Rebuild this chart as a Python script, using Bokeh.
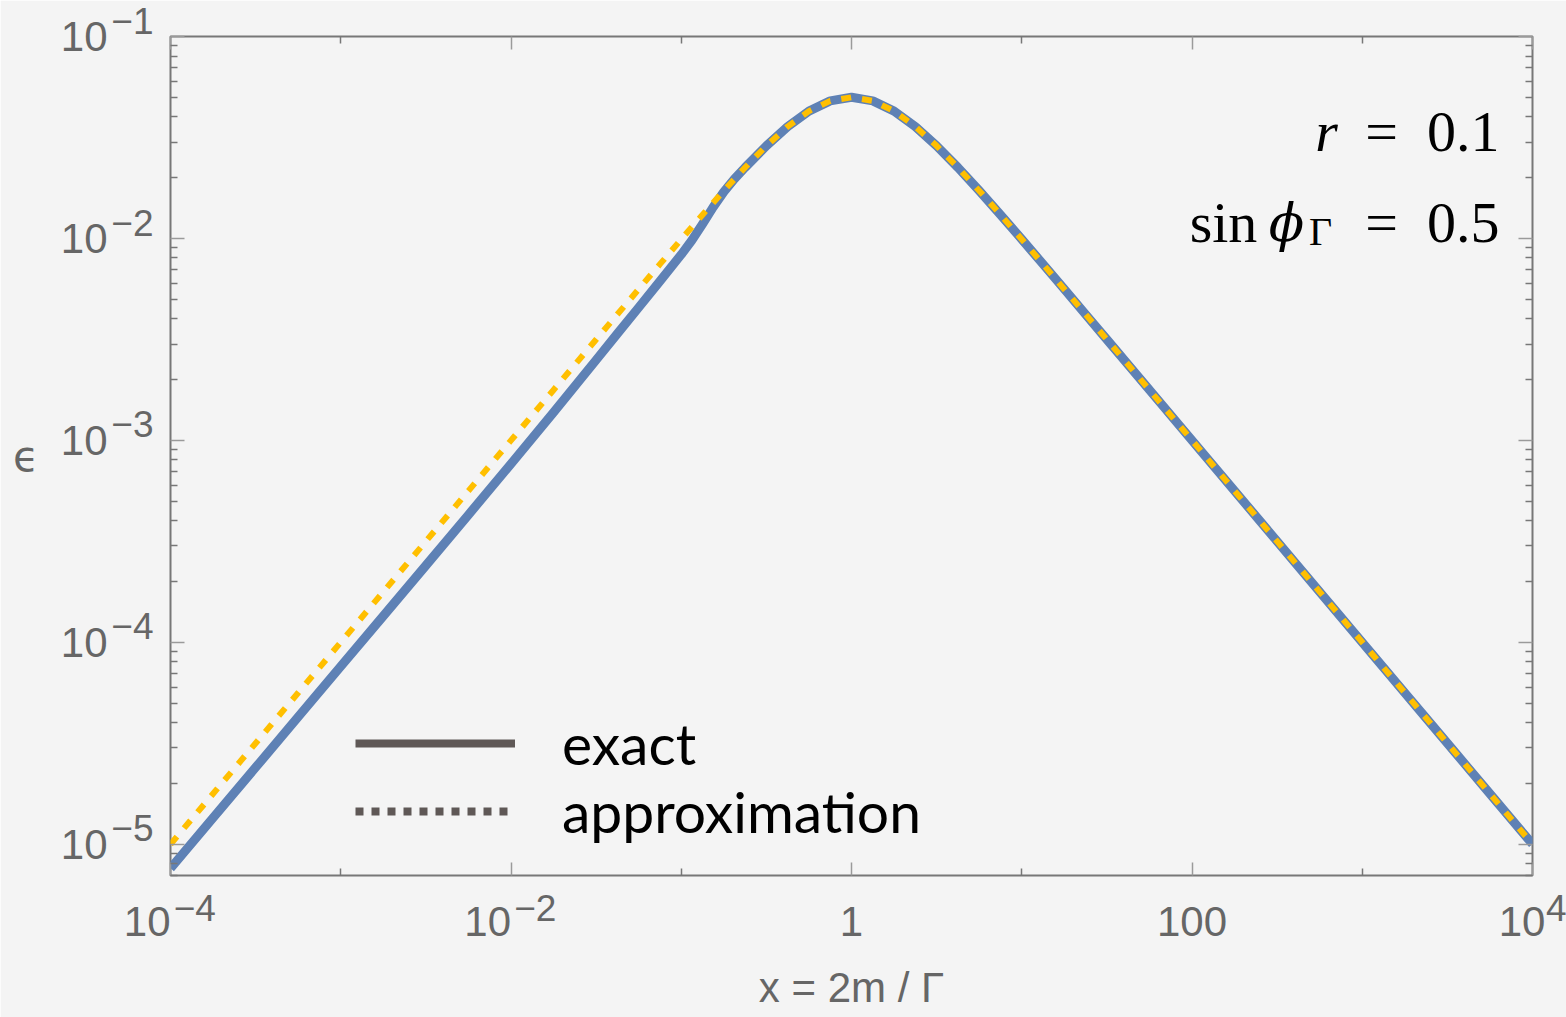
import math
from bokeh.plotting import figure
from bokeh.models import LogAxis, FixedTicker, Label, Legend, LegendItem, Range1d
from bokeh.embed import file_html
from bokeh.resources import INLINE

# ---------------- data ----------------
x_exact = [1e-4, 1.778e-4, 3.162e-4, 5.623e-4, 1e-3, 1.778e-3, 3.162e-3, 5.623e-3,
           1e-2, 1.778e-2, 3.162e-2, 4.217e-2, 5.623e-2, 7.499e-2, 0.1, 0.1155, 0.1334, 0.1540, 0.1778,
           0.2054, 0.2371, 0.3162, 0.4217, 0.5623, 0.7499, 1.0, 1.3335, 1.7783, 2.3714, 3.1623,
           4.2170, 5.6234, 7.4989, 10.0, 13.335, 17.783, 23.714, 31.623, 56.234, 100.0,
           177.83, 316.23, 562.34, 1000.0, 1778.3, 3162.3, 5623.4, 10000.0]
eps_exact = [7.6e-6, 1.35e-5, 2.40e-5, 4.27e-5, 7.6e-5, 1.35e-4, 2.40e-4, 4.28e-4,
             7.65e-4, 1.375e-3, 2.50e-3, 3.38e-3, 4.55e-3, 6.14e-3, 8.32e-3, 9.8e-3, 1.18e-2, 1.429e-2, 1.70e-2,
             0.01971, 0.02245, 0.02875, 0.03580, 0.04272, 0.04800, 0.05000, 0.04800, 0.04272, 0.03580, 0.02875,
             0.02245, 0.01724, 0.01311, 0.009901, 0.007457, 0.005605, 0.004210, 0.003159, 0.001777, 0.001,
             5.623e-4, 3.162e-4, 1.778e-4, 1e-4, 5.623e-5, 3.162e-5, 1.778e-5, 1e-5]

x_approx = [1e-4, 1.778e-4, 3.162e-4, 5.623e-4, 1e-3, 1.778e-3, 3.162e-3, 5.623e-3,
            1e-2, 1.778e-2, 3.162e-2, 4.217e-2, 5.623e-2, 7.499e-2, 0.1, 0.1334, 0.1778,
            0.2371, 0.3162, 0.4217, 0.5623, 0.7499, 1.0, 1.3335, 1.7783, 2.3714, 3.1623,
            4.2170, 5.6234, 7.4989, 10.0, 13.335, 17.783, 23.714, 31.623, 56.234, 100.0,
            177.83, 316.23, 562.34, 1000.0, 1778.3, 3162.3, 5623.4, 10000.0]
eps_approx = [1e-5, 1.778e-5, 3.162e-5, 5.623e-5, 1e-4, 1.778e-4, 3.162e-4, 5.623e-4,
              1e-3, 1.777e-3, 3.159e-3, 4.210e-3, 5.605e-3, 7.457e-3, 9.901e-3, 1.311e-2, 1.724e-2,
              0.02245, 0.02875, 0.03580, 0.04272, 0.04800, 0.05000, 0.04800, 0.04272, 0.03580, 0.02875,
              0.02245, 0.01724, 0.01311, 0.009901, 0.007457, 0.005605, 0.004210, 0.003159, 0.001777, 0.001,
              5.623e-4, 3.162e-4, 1.778e-4, 1e-4, 5.623e-5, 3.162e-5, 1.778e-5, 1e-5]

series_labels = ["exact", "approximation"]

# tick labels: (mantissa, exponent)
x_major = [1e-4, 1e-2, 1.0, 100.0, 1e4]
x_tick_labels = [("10", "\u22124"), ("10", "\u22122"), ("1", ""), ("100", ""), ("10", "4")]
x_minor = [1e-3, 1e-1, 10.0, 1e3]
y_major = [1e-5, 1e-4, 1e-3, 1e-2, 1e-1]
y_tick_labels = [("10", "\u22125"), ("10", "\u22124"), ("10", "\u22123"), ("10", "\u22122"), ("10", "\u22121")]

x_title = "x = 2m / \u0393"
y_title = "\u03f5"
param_lines = [("r", "0.1"), ("sin", "0.5")]

X0, X1 = 1e-4, 1e4
Y0, Y1 = 7.0e-6, 0.1

# ---------------- layout ----------------
W, H = 1566, 1017
FL, FR, FT, FB = 170, 1532, 36, 875
BG = "#f4f4f4"
GRAY = "#666666"
TICK_FONT = "Liberation Sans"
BASE_SIZE, EXP_SIZE = 42, 37
FIG = "\u2007"     # figure space (digit width)
EN = "\u2002"
THIN = "\u2009"

y_minor = [m * 10.0 ** e for e in range(-6, -1) for m in range(2, 10) if Y0 <= m * 10.0 ** e <= Y1]

p = figure(width=W, height=H, x_axis_type="log", y_axis_type="log",
           x_range=Range1d(X0, X1), y_range=Range1d(Y0, Y1),
           output_backend="svg", toolbar_location=None,
           min_border_left=FL, min_border_right=W - FR, min_border_top=FT, min_border_bottom=H - FB,
           background_fill_color=BG, border_fill_color=BG,
           outline_line_color="#777777", outline_line_width=2)
p.xgrid.visible = False
p.ygrid.visible = False


def style_axis(ax, major, minor, maj_len, labels, size=BASE_SIZE, ticks=True):
    ax.ticker = FixedTicker(ticks=major, minor_ticks=minor)
    ax.axis_line_color = None
    ax.major_tick_in = maj_len if ticks else 0
    ax.major_tick_out = 0
    ax.minor_tick_in = 7 if ticks else 0
    ax.minor_tick_out = 0
    ax.major_tick_line_color = "#9a9a9a" if ticks else None
    ax.major_tick_line_width = 1.5
    ax.minor_tick_line_color = "#777777" if ticks else None
    ax.minor_tick_line_width = 1.5
    ax.major_label_overrides = {v: t for v, t in zip(major, labels)}
    ax.major_label_text_font = TICK_FONT
    ax.major_label_text_font_size = f"{size}px"
    ax.major_label_text_color = GRAY
    ax.axis_label_text_font = TICK_FONT
    ax.axis_label_text_font_style = "normal"
    ax.axis_label_text_color = GRAY


def mirror_axis(tick_values, length, color):
    # frame ticks without any labels: the values are given as (unlabelled) minor ticks
    ax = LogAxis(ticker=FixedTicker(ticks=[], minor_ticks=tick_values))
    ax.axis_line_color = None
    ax.major_tick_in = 0
    ax.major_tick_out = 0
    ax.major_tick_line_color = None
    ax.minor_tick_in = length
    ax.minor_tick_out = 0
    ax.minor_tick_line_color = color
    ax.minor_tick_line_width = 1.5
    ax.major_label_standoff = 0
    ax.axis_label = None
    return ax


# ---- bottom: inner axis carries ticks + exponents, outer axis the mantissas ----
x_exp_labels = [(FIG + FIG + THIN + ex) if ex else "" for _, ex in x_tick_labels]
x_base_labels = [(b + (FIG + FIG if len(ex) > 1 else EN)) if ex else b for b, ex in x_tick_labels]

x_inner = p.xaxis[0]
style_axis(x_inner, x_major, x_minor, 13, x_exp_labels, size=EXP_SIZE)
x_inner.major_label_standoff = 12
x_inner.axis_label = None

x_outer = LogAxis()
style_axis(x_outer, x_major, x_minor, 0, x_base_labels, ticks=False)
x_outer.major_label_standoff = -34
x_outer.axis_label = x_title
x_outer.axis_label_text_font_size = f"{BASE_SIZE}px"
x_outer.axis_label_standoff = 16
p.add_layout(x_outer, "below")

# ---- left: inner axis carries ticks + exponents (raised), outer axis the mantissas ----
y_exp_labels = [ex + "\n\u200b" for _, ex in y_tick_labels]
y_base_labels = [b for b, _ in y_tick_labels]

y_inner = p.yaxis[0]
style_axis(y_inner, y_major, y_minor, 14, y_exp_labels, size=EXP_SIZE)
y_inner.major_label_standoff = 17
y_inner.major_label_text_line_height = 0.75
y_inner.axis_label = None

y_outer = LogAxis()
style_axis(y_outer, y_major, y_minor, 0, y_base_labels, ticks=False)
y_outer.major_label_standoff = 1
y_outer.axis_label = y_title
y_outer.axis_label_text_font = "DejaVu Sans"
y_outer.axis_label_text_font_size = "42px"
y_outer.axis_label_orientation = "horizontal"
y_outer.axis_label_standoff = 19
p.add_layout(y_outer, "left")

# ---- mirrored frame ticks on top and right (no labels) ----
p.add_layout(mirror_axis(x_minor, 7, "#777777"), "above")
p.add_layout(mirror_axis(x_major, 13, "#9a9a9a"), "above")
p.add_layout(mirror_axis(y_minor, 7, "#777777"), "right")
p.add_layout(mirror_axis(y_major, 14, "#9a9a9a"), "right")

# ---------------- curves ----------------
p.line(x_exact, eps_exact, line_color="#5E81B5", line_width=9, line_join="round")
p.line(x_approx, eps_approx, line_color="#FFBF00", line_width=6, line_dash="10 11")

# legend proxies (gray swatches as in the reference); hidden in the plot area
r1 = p.line(x_exact, eps_exact, line_color="#5f5856", line_width=8, visible=False)
r2 = p.line(x_approx, eps_approx, line_color="#5f5856", line_width=8, line_dash="8 8", visible=False)
legend = Legend(items=[LegendItem(label=series_labels[0], renderers=[r1]),
                       LegendItem(label=series_labels[1], renderers=[r2])],
                location=(185, 30), padding=0, margin=0, spacing=-3,
                glyph_width=160, glyph_height=40, label_height=40, label_standoff=47,
                label_text_font="Lato", label_text_font_size="57px", label_text_color="black",
                background_fill_alpha=0, border_line_alpha=0, click_policy="none")
p.add_layout(legend)

# ---------------- parameter annotations (top right, inside the frame) ----------------
LX0, LX1 = math.log10(X0), math.log10(X1)
LY0, LY1 = math.log10(Y0), math.log10(Y1)


def x_at(px):
    return 10 ** (LX0 + (px - FL) / (FR - FL) * (LX1 - LX0))


def y_at(py):
    return 10 ** (LY1 - (py - FT) / (FB - FT) * (LY1 - LY0))


SERIF = "Liberation Serif"


def add_label(x, y, text, size, align="left", font=SERIF, color="black", style="normal"):
    p.add_layout(Label(x=x, y=y, text=text, text_font=font, text_font_size=f"{size}px",
                       text_color=color, text_align=align, text_baseline="alphabetic",
                       text_font_style=style))


add_label(x_at(1326), y_at(131), param_lines[0][0], 58, align="center", style="italic")
add_label(x_at(1381), y_at(131), "=", 58, align="center")
add_label(x_at(1499), y_at(131), param_lines[0][1], 58, align="right")

add_label(x_at(1223), y_at(222), param_lines[1][0], 58, align="center")
add_label(x_at(1286), y_at(222), "\u03d5", 52, align="center", font="DejaVu Serif", style="italic")
add_label(x_at(1320), y_at(231), "\u0393", 40, align="center")
add_label(x_at(1381), y_at(222), "=", 58, align="center")
add_label(x_at(1499), y_at(222), param_lines[1][1], 58, align="right")

open("out.html", "w").write(file_html(p, INLINE))
